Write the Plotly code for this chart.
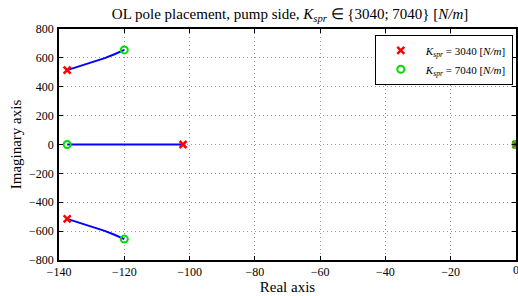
import plotly.graph_objects as go

# Root locus branches
upper_re = [-137.5, -135, -132, -129, -126, -123, -120]
upper_im = [515, 532, 553, 575, 598, 625, 655]
lower_re = upper_re
lower_im = [-v for v in upper_im]
real_re = [-137.5, -102]
real_im = [0, 0]

# Poles at K = 3040 and K = 7040
k1_re = [-137.5, -137.5, -102, 0]
k1_im = [515, -515, 0, 0]
k2_re = [-120, -120, -137.5, 0]
k2_im = [655, -655, 0, 0]

serif = "Liberation Serif"
fig = go.Figure()
for xs, ys in [(upper_re, upper_im), (lower_re, lower_im), (real_re, real_im)]:
    fig.add_trace(go.Scatter(x=xs, y=ys, mode="lines", line=dict(color="#0000ff", width=2),
                             showlegend=False, hoverinfo="skip"))
fig.add_trace(go.Scatter(x=k1_re, y=k1_im, mode="markers",
                         marker=dict(symbol="x-thin", size=7, line=dict(color="#ff0000", width=2.5), color="#ff0000"),
                         name="<i>K<sub>spr</sub></i> = 3040 [<i>N/m</i>]"))
fig.add_trace(go.Scatter(x=k2_re, y=k2_im, mode="markers",
                         marker=dict(symbol="circle-open", size=7, line=dict(color="#00dd00", width=2), color="#00dd00"),
                         name="<i>K<sub>spr</sub></i> = 7040 [<i>N/m</i>]"))

axis_common = dict(showline=True, linecolor="black", linewidth=1.5, mirror="ticks",
                   ticks="inside", ticklen=4, tickcolor="black", automargin=False,
                   showgrid=True, gridcolor="#999999", griddash="1px,3px", gridwidth=1,
                   zeroline=False)
fig.update_xaxes(range=[-140, 0], dtick=20, ticklabelstandoff=0,
                 tickfont=dict(family=serif, size=12, color="black"),
                 title=dict(text="Real axis", font=dict(family=serif, size=15, color="black"), standoff=0), **axis_common)
fig.update_yaxes(range=[-800, 800], dtick=200, ticklabelstandoff=1,
                 tickfont=dict(family=serif, size=12, color="black"),
                 title=dict(text="Imaginary axis", font=dict(family=serif, size=15, color="black"), standoff=4), **axis_common)

fig.add_annotation(x=0, y=0, xref="x", yref="paper", text="0", showarrow=False,
                   xanchor="center", yanchor="top", yshift=-1,
                   font=dict(family=serif, size=12, color="black"))

fig.update_layout(
    width=518, height=296,
    margin=dict(l=59, r=2, t=29, b=36, autoexpand=False),
    paper_bgcolor="white", plot_bgcolor="white",
    font=dict(family=serif, color="black"),
    title=dict(text="OL pole placement, pump side, <i>K<sub>spr</sub></i> ∈ {3040; 7040} [<i>N/m</i>]",
               x=0.56, xanchor="center", y=0.955, yanchor="middle",
               font=dict(family=serif, size=15, color="black")),
    legend=dict(x=0.993, y=0.975, xanchor="right", yanchor="top",
                bordercolor="black", borderwidth=1, bgcolor="white",
                font=dict(family=serif, size=11, color="black"),
                tracegroupgap=0, itemwidth=40),
)
fig.write_html("out.html", config={"displayModeBar": False},
               post_script="document.body.style.margin='0';document.body.style.overflow='hidden';")
